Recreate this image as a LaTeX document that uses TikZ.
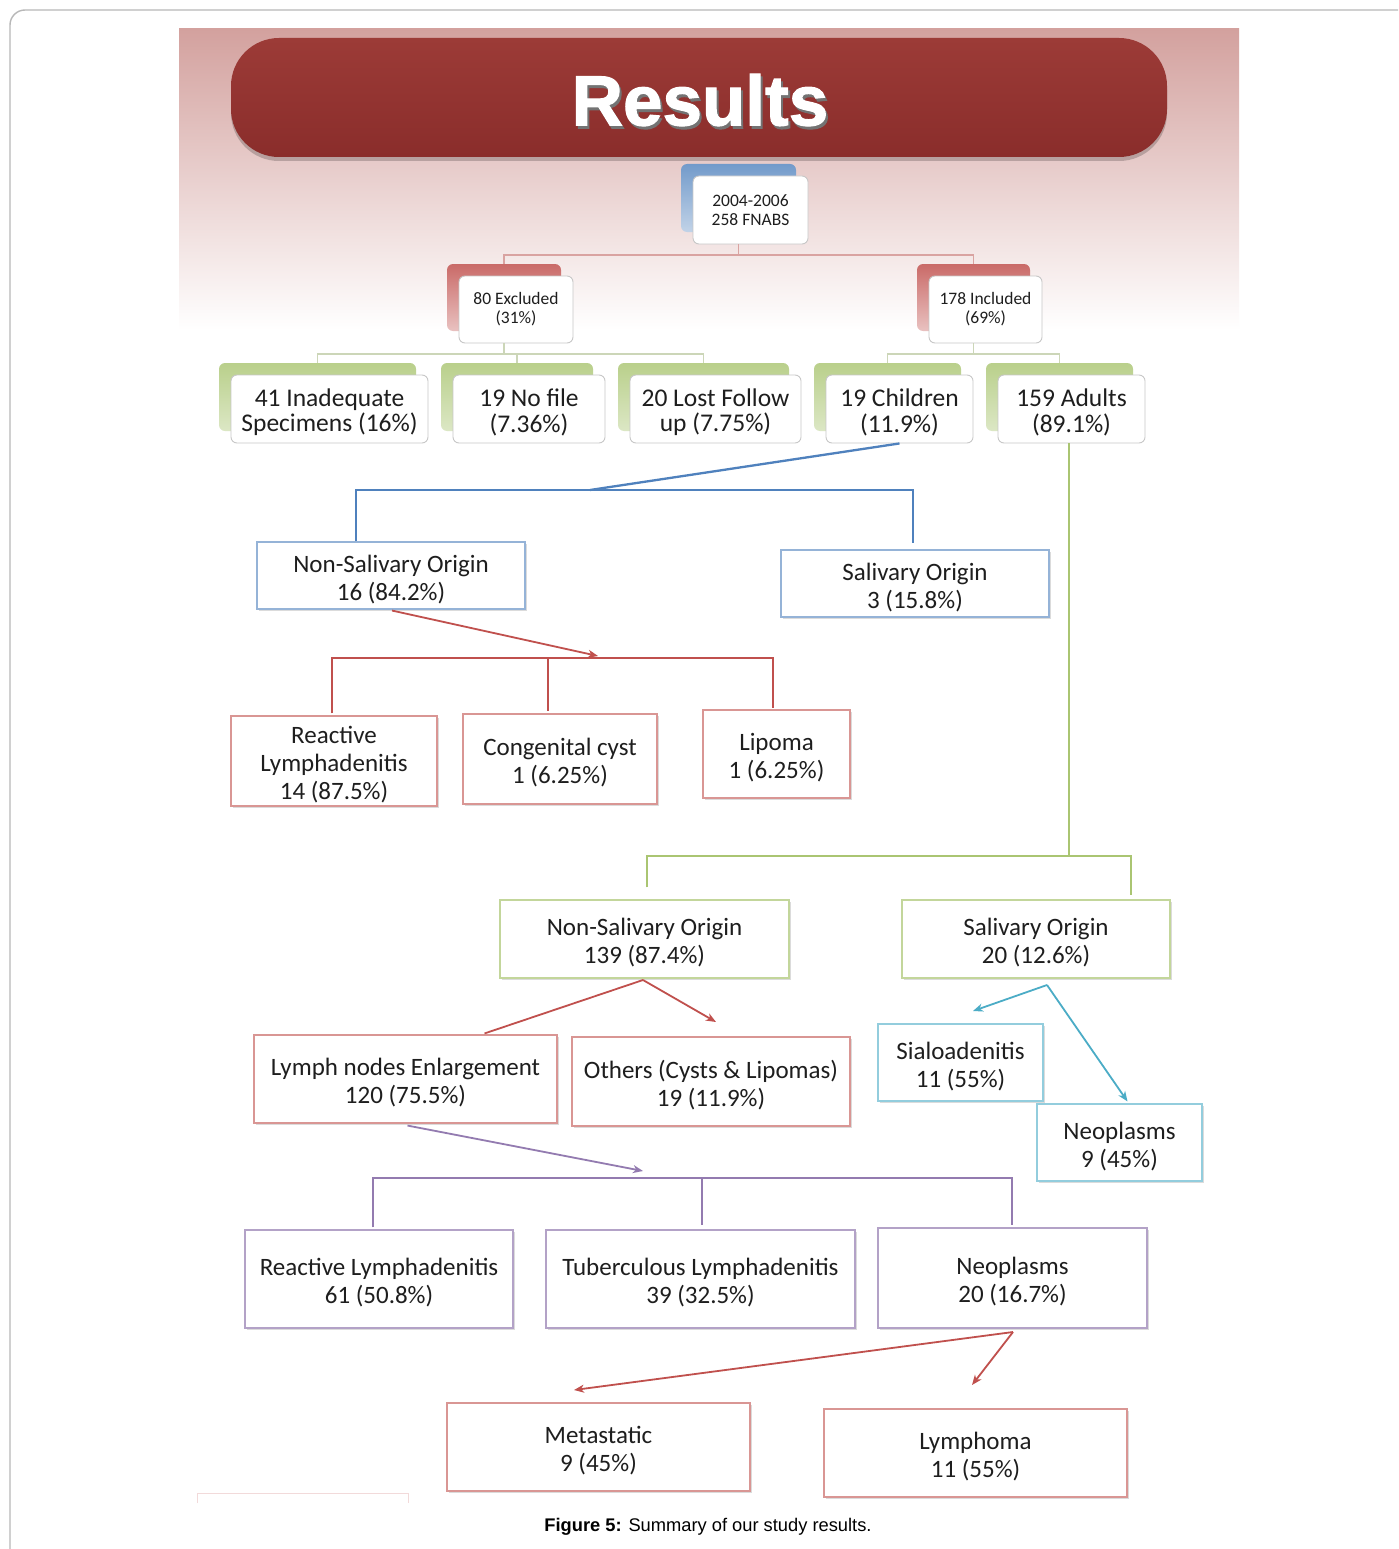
\documentclass[tikz,border=0pt]{standalone}
\usepackage{fontspec}
\setmainfont{Carlito}
\newfontfamily\capfont{Liberation Sans}
\newfontfamily\titlefont{Liberation Sans}[BoldFeatures={FakeBold=1.6}]
\usetikzlibrary{shadows,arrows.meta,calc}
\definecolor{bannerA}{HTML}{9C3B37}
\definecolor{bannerB}{HTML}{8A2D2B}
\definecolor{panelTop}{HTML}{D3A19E}
\definecolor{panelMid}{HTML}{EBCFCD}
\definecolor{lineTop}{HTML}{D9A3A1}
\definecolor{lineGrn}{HTML}{CCD6B8}
\definecolor{cBlue}{HTML}{4F81BD}
\definecolor{cRed}{HTML}{C0504D}
\definecolor{cGreen}{HTML}{9BBB59}
\definecolor{cCyan}{HTML}{4BACC6}
\definecolor{cPurple}{HTML}{8064A2}
\definecolor{bBlue}{HTML}{95B3D7}
\definecolor{bRed}{HTML}{D99694}
\definecolor{bGreen}{HTML}{C3D69B}
\definecolor{bCyan}{HTML}{93CDDD}
\definecolor{bPurple}{HTML}{B3A2C7}
\definecolor{txt}{HTML}{1E1E1E}
\newcommand{\mainfs}{\fontsize{25}{28}\selectfont}
\newcommand{\rowfs}{\fontsize{25.5}{25.5}\selectfont}
\newcommand{\smallfs}{\fontsize{17.5}{19}\selectfont}
\newcommand{\ts}{\rule{0pt}{24.5pt}}
\begin{document}
\begin{tikzpicture}[x=1pt,y=-1pt,
  base/.style={draw, fill=white, align=center, inner sep=0pt, text=txt, line width=1.1pt},
  box/.style={base, font=\mainfs, drop shadow={shadow xshift=2pt, shadow yshift=-2pt, opacity=0.28, fill=gray}},
  front/.style={base, rounded corners=6pt, draw=black!22, line width=0.9pt},
  smallbox/.style={front, font=\smallfs, minimum width=114pt, minimum height=67pt},
  rowbox/.style={front, font=\rowfs, minimum height=68pt},
  backbox/.style={rounded corners=6pt, draw=none},
  bkBlue/.style={backbox, top color=cBlue!80, bottom color=cBlue!35},
  bkRed/.style={backbox, top color=cRed!85!white, bottom color=cRed!35},
  bkGreen/.style={backbox, top color=cGreen!70, bottom color=cGreen!35},
  thin/.style={draw=lineTop, line width=1.2pt},
  thing/.style={draw=lineGrn, line width=1.2pt},
  conn/.style={line width=2.3pt},
  tip/.style={-{Stealth[length=10pt,width=8pt,inset=3pt]}}
]
\useasboundingbox (0,0) rectangle (1398,1549);
\fill[white] (0,0) rectangle (1398,1549);
% outer frame
\draw[black!28, line width=1.4pt] (10,1549) -- (10,25) arc[start angle=180, end angle=270, radius=15] -- (1398,10);
% background panel
\shade[top color=panelTop, middle color=panelMid, bottom color=white] (179,29) rectangle (1239,330);
% title banner
\node[rounded corners=48pt, minimum width=936pt, minimum height=119pt, top color=bannerA, bottom color=bannerB, draw=none,
      drop shadow={shadow xshift=0pt, shadow yshift=-4pt, opacity=0.2, fill=black}] (banner) at (699,97.5) {};
\node[text=black!55, font=\titlefont\bfseries\fontsize{71}{71}\selectfont] (titleshadow) at (702,103) {Results};
\node[text=white, font=\titlefont\bfseries\fontsize{71}{71}\selectfont] (title) at (700,100) {Results};

% ---------- top tree: back boxes ----------
\node[bkBlue, minimum width=115pt, minimum height=68pt] (aS) at (738.5,198) {};
\node[bkRed, minimum width=114pt, minimum height=67pt] (bS) at (504,297.5) {};
\node[bkRed, minimum width=113pt, minimum height=67pt] (cS) at (973.5,297.5) {};
\node[bkGreen, minimum width=197pt, minimum height=68pt] (d1S) at (317.5,397) {};
\node[bkGreen, minimum width=152pt, minimum height=68pt] (d2S) at (517,397) {};
\node[bkGreen, minimum width=171pt, minimum height=68pt] (d3S) at (703.5,397) {};
\node[bkGreen, minimum width=147pt, minimum height=68pt] (d4S) at (887.5,397) {};
\node[bkGreen, minimum width=147pt, minimum height=68pt] (d5S) at (1059.5,397) {};

% front boxes
\node[smallbox, minimum width=115pt, minimum height=68pt] (a) at (750.5,210) {2004-2006\\258 FNABS};
\node[smallbox] (b) at (516,309.5) {80 Excluded\\(31\%)};
\node[smallbox, minimum width=113pt] (c) at (985.5,309.5) {178 Included\\(69\%)};
\node[rowbox, minimum width=197pt] (d1) at (329.5,409) {\ts 41 Inadequate\\Specimens (16\%)};
\node[rowbox, minimum width=152pt] (d2) at (529,409) {\ts 19 No file\\(7.36\%)};
\node[rowbox, minimum width=171pt] (d3) at (715.5,409) {\ts 20 Lost Follow\\up (7.75\%)};
\node[rowbox, minimum width=147pt] (d4) at (899.5,409) {\ts 19 Children\\(11.9\%)};
\node[rowbox, minimum width=147pt] (d5) at (1071.5,409) {\ts 159 Adults\\(89.1\%)};

% top connectors
\coordinate (abus) at (738.5,255);
\draw[thin] (a.south -| aS.south) -- (abus);
\draw[thin] (abus) -| (bS.north);
\draw[thin] (abus) -| (cS.north);
\coordinate (bbus) at (504,354);
\draw[thing] (b.south -| bS.south) -- (bbus);
\draw[thing] (bbus) -| (d1S.north);
\draw[thing] (bbus) -| (d3S.north);
\draw[thing] (d2S.north) -- (d2S.north |- bbus);
\coordinate (cbus) at (973.5,354);
\draw[thing] (c.south -| cS.south) -- (cbus);
\draw[thing] (cbus) -| (d4S.north);
\draw[thing] (cbus) -| (d5S.north);

% ---------- children branch ----------
\node[box, draw=bBlue, minimum width=268pt, minimum height=67pt] (e1) at (391,575.5) {\ts Non-Salivary Origin\\16 (84.2\%)};
\node[box, draw=bBlue, minimum width=268pt, minimum height=67pt] (e2) at (915,583.5) {\ts Salivary Origin\\3 (15.8\%)};
\coordinate (bjoin) at (590,490);
\coordinate (bl1) at (356,490);
\coordinate (bl2) at (913,490);
\draw[conn, cBlue] (d4.south) -- (bjoin);
\draw[conn, cBlue] (bl1 |- e1.north) -- (bl1) -- (bl2) -- ($(bl2 |- e2.north)+(0,-6)$);

\node[box, draw=bRed, minimum width=206pt, minimum height=90pt] (f1) at (334,761) {\ts Reactive\\Lymphadenitis\\14 (87.5\%)};
\node[box, draw=bRed, minimum width=194pt, minimum height=90pt] (f2) at (560,759) {\ts Congenital cyst\\1 (6.25\%)};
\node[box, draw=bRed, minimum width=147pt, minimum height=88pt] (f3) at (776.5,754) {\ts Lipoma\\1 (6.25\%)};
\coordinate (rjoin) at (598,656);
\coordinate (rl1) at (332,658);
\coordinate (rl2) at (548,658);
\coordinate (rl3) at (773,658);
\draw[conn, cRed, line width=1.8pt, tip] ($(e1.south)+(1,1)$) -- (rjoin);
\draw[conn, cRed, line width=1.8pt] ($(rl1 |- f1.north)+(0,-2)$) -- (rl1) -- (rl3) -- ($(rl3 |- f3.north)+(0,-1)$);
\draw[conn, cRed, line width=1.8pt] (rl2) -- ($(rl2 |- f2.north)+(0,-2)$);

% ---------- adults branch ----------
\node[box, draw=bGreen, minimum width=289pt, minimum height=78pt] (g1) at (644.5,939) {\ts Non-Salivary Origin\\139 (87.4\%)};
\node[box, draw=bGreen, minimum width=268pt, minimum height=78pt] (g2) at (1036,939) {\ts Salivary Origin\\20 (12.6\%)};
\coordinate (gl1) at (647,856);
\coordinate (gl2) at (1131,856);
\draw[conn, cGreen!85] (d5.south -| 1069,0) -- (1069,856);
\draw[conn, cGreen!85] ($(gl1 |- g1.north)+(0,-12)$) -- (gl1) -- (gl2) -- ($(gl2 |- g2.north)+(0,-4)$);

\node[box, draw=bRed, minimum width=303pt, minimum height=88pt] (h1) at (405.5,1079) {\ts Lymph nodes Enlargement\\120 (75.5\%)};
\node[box, draw=bRed, minimum width=278pt, minimum height=89pt] (h2) at (711,1081.5) {\ts Others (Cysts \& Lipomas)\\19 (11.9\%)};
\coordinate (g1out) at (643,980);
\coordinate (h2tip) at (716,1022);
\draw[conn, cRed, line width=1.8pt] (g1out) -- ($(h1.north)+(79,-1)$);
\draw[conn, cRed, line width=1.8pt, tip] (g1out) -- (h2tip);

\node[box, draw=bCyan, minimum width=165pt, minimum height=77pt] (i1) at (960.5,1062.5) {\ts Sialoadenitis\\11 (55\%)};
\node[box, draw=bCyan, minimum width=165pt, minimum height=77pt] (i2) at (1119.5,1142.5) {\ts Neoplasms\\9 (45\%)};
\coordinate (g2out) at (1047,985);
\draw[conn, cCyan, line width=1.8pt, tip] (g2out) -- (973,1011);
\draw[conn, cCyan, line width=1.8pt, tip] (g2out) -- ($(i2.north)+(8,-2)$);

\node[box, draw=bPurple, minimum width=268pt, minimum height=98pt] (j1) at (379,1279) {\ts Reactive Lymphadenitis\\61 (50.8\%)};
\node[box, draw=bPurple, minimum width=309pt, minimum height=98pt] (j2) at (700.5,1279) {\ts Tuberculous Lymphadenitis\\39 (32.5\%)};
\node[box, draw=bPurple, minimum width=269pt, minimum height=100pt] (j3) at (1012.5,1278) {\ts Neoplasms\\20 (16.7\%)};
\coordinate (pjoin) at (643,1171);
\coordinate (pl1) at (373,1178);
\coordinate (pl2) at (702,1178);
\coordinate (pl3) at (1012,1178);
\draw[conn, cPurple!85, line width=1.8pt, tip] ($(h1.south)+(2,2)$) -- (pjoin);
\draw[conn, cPurple!85, line width=1.8pt] ($(pl1 |- j1.north)+(0,-2)$) -- (pl1) -- (pl3) -- ($(pl3 |- j3.north)+(0,-2)$);
\draw[conn, cPurple!85, line width=1.8pt] (pl2) -- ($(pl2 |- j2.north)+(0,-4)$);

\node[box, draw=bRed, minimum width=303pt, minimum height=88pt] (k1) at (598.5,1447) {\ts Metastatic\\9 (45\%)};
\node[box, draw=bRed, minimum width=303pt, minimum height=88pt] (k2) at (975.5,1453) {\ts Lymphoma\\11 (55\%)};
\coordinate (j3out) at (1013,1332);
\draw[conn, cRed, line width=1.8pt, tip] (j3out) -- (574,1390);
\draw[conn, cRed, line width=1.8pt, tip] (j3out) -- (972,1385);

% clipped faint box at bottom left
\draw[bRed!35, line width=1pt] (197,1503) -- (197,1493) -- (408,1493) -- (408,1503);

% caption
\node[font=\capfont\fontsize{18.3}{22}\selectfont, text=black] (caption) at (708,1527) {\textbf{Figure 5:} Summary of our study results.};
\end{tikzpicture}
\end{document}
